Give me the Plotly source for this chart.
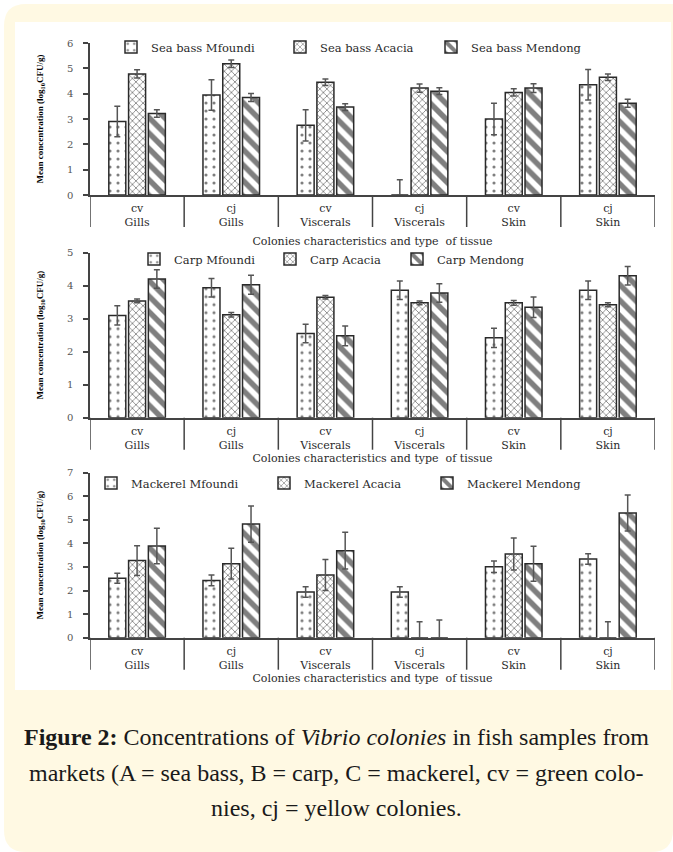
import plotly.graph_objects as go

W, H = 673, 852

# ---------------- data ----------------
colonies = ["cv", "cj", "cv", "cj", "cv", "cj"]
tissues = ["Gills", "Gills", "Viscerals", "Viscerals", "Skin", "Skin"]
markets = ["Mfoundi", "Acacia", "Mendong"]

seabass_mfoundi = [2.90, 3.95, 2.75, 0.00, 3.00, 4.35]
seabass_mfoundi_err = [0.60, 0.60, 0.62, 0.60, 0.62, 0.60]
seabass_acacia = [4.78, 5.18, 4.45, 4.22, 4.05, 4.65]
seabass_acacia_err = [0.16, 0.15, 0.13, 0.16, 0.14, 0.13]
seabass_mendong = [3.22, 3.85, 3.47, 4.10, 4.22, 3.62]
seabass_mendong_err = [0.15, 0.16, 0.13, 0.13, 0.17, 0.16]

carp_mfoundi = [3.10, 3.94, 2.55, 3.86, 2.42, 3.86]
carp_mfoundi_err = [0.29, 0.28, 0.28, 0.28, 0.29, 0.28]
carp_acacia = [3.54, 3.12, 3.65, 3.48, 3.48, 3.42]
carp_acacia_err = [0.06, 0.07, 0.05, 0.06, 0.07, 0.06]
carp_mendong = [4.20, 4.03, 2.48, 3.78, 3.35, 4.30]
carp_mendong_err = [0.28, 0.29, 0.30, 0.28, 0.31, 0.28]

mackerel_mfoundi = [2.52, 2.43, 1.94, 1.94, 3.01, 3.34]
mackerel_mfoundi_err = [0.21, 0.23, 0.22, 0.22, 0.24, 0.22]
mackerel_acacia = [3.27, 3.14, 2.66, 0.00, 3.55, 0.00]
mackerel_acacia_err = [0.63, 0.65, 0.66, 0.68, 0.68, 0.68]
mackerel_mendong = [3.89, 4.82, 3.69, 0.00, 3.14, 5.29]
mackerel_mendong_err = [0.75, 0.77, 0.78, 0.75, 0.74, 0.76]

y_title = "Mean concentration (log<sub>10</sub>CFU/g)"
x_title = "Colonies characteristics and type  of tissue"
caption_lines = [
    "<b>Figure 2:</b> Concentrations of <i>Vibrio colonies</i> in fish samples from",
    "markets (A = sea bass, B = carp, C = mackerel, cv = green colo-",
    "nies, cj = yellow colonies.",
]

# ---------------- helpers ----------------
def px(x):
    return x / W

def py(y):
    return 1 - y / H

cats = [f"{c} {t}" for c, t in zip(colonies, tissues)]
ticktext = [f"{c}<br>{t}" for c, t in zip(colonies, tissues)]

FONT = "DejaVu Serif"
INK = "#2a2a2a"
patterns = {"Mfoundi": dict(shape=".", size=8, solidity=0.12),
            "Acacia": dict(shape="x", size=5, solidity=0.3),
            "Mendong": dict(shape="\\", size=11, solidity=0.5)}

panels = [
    dict(name="Sea bass", vals=[seabass_mfoundi, seabass_acacia, seabass_mendong],
         errs=[seabass_mfoundi_err, seabass_acacia_err, seabass_mendong_err],
         top=43, bottom=195, ymax=6, leg_y=47, leg_x=111, lw=[124, 106, 130], tstand=9),
    dict(name="Carp", vals=[carp_mfoundi, carp_acacia, carp_mendong],
         errs=[carp_mfoundi_err, carp_acacia_err, carp_mendong_err],
         top=252.7, bottom=417.7, ymax=5, leg_y=259, leg_x=134, lw=[91, 82, 100], tstand=2),
    dict(name="Mackerel", vals=[mackerel_mfoundi, mackerel_acacia, mackerel_mendong],
         errs=[mackerel_mfoundi_err, mackerel_acacia_err, mackerel_mendong_err],
         top=472.7, bottom=637.7, ymax=7, leg_y=483, leg_x=91, lw=[128, 118, 130], tstand=0),
]

PLOT_L, PLOT_R = 90, 655

fig = go.Figure()
layout = dict(
    width=W, height=H,
    margin=dict(l=0, r=0, t=0, b=0),
    paper_bgcolor="white", plot_bgcolor="rgba(0,0,0,0)",
    barmode="group", bargap=0.37, bargroupgap=0.14,
    showlegend=True,
    font=dict(family=FONT, color=INK, size=11),
)
shapes = []

# background card
r = 22
x0, x1, y0, y1 = 4, 673, 4, 852
path = (f"M{px(x0 + r)},{py(y0)} L{px(x1)},{py(y0)} L{px(x1)},{py(y1 - r)} "
        f"Q{px(x1)},{py(y1)} {px(x1 - r)},{py(y1)} L{px(x0 + r)},{py(y1)} "
        f"Q{px(x0)},{py(y1)} {px(x0)},{py(y1 - r)} L{px(x0)},{py(y0 + r)} "
        f"Q{px(x0)},{py(y0)} {px(x0 + r)},{py(y0)} Z")
shapes.append(dict(type="path", xref="paper", yref="paper", path=path,
                   fillcolor="#FFF9E3", line=dict(width=0), layer="below"))
shapes.append(dict(type="rect", xref="paper", yref="paper",
                   x0=px(15), x1=px(671), y0=py(690), y1=py(22),
                   fillcolor="white", line=dict(width=0), layer="below"))

for i, p in enumerate(panels):
    k = "" if i == 0 else str(i + 1)
    xa, ya = "x" + k, "y" + k
    leg = "legend" + k
    for j, m in enumerate(markets):
        vals = p["vals"][j]
        errs = p["errs"][j]
        fig.add_trace(go.Bar(
            x=cats, y=vals, name=f"{p['name']} {m}",
            xaxis=xa, yaxis=ya, legend=leg, legendwidth=p["lw"][j],
            marker=dict(color="white", line=dict(color=INK, width=1.5),
                        pattern=dict(fgcolor="#000", bgcolor="white", **patterns[m])),
            error_y=dict(type="data", array=errs,
                         arrayminus=[min(e, v) for e, v in zip(errs, vals)],
                         color="#555", thickness=1.5, width=3),
        ))
    dom_y = [py(p["bottom"]), py(p["top"])]
    layout["xaxis" + k] = dict(
        domain=[px(PLOT_L), px(PLOT_R)], anchor=ya, type="category",
        range=[-0.5, len(cats) - 0.5], showline=True, linecolor="#444", linewidth=1.5,
        ticks="", tickvals=cats, ticktext=ticktext, ticklabelstandoff=2,
        tickfont=dict(family=FONT, size=11, color=INK), showgrid=False, zeroline=False,
        automargin=False,
        title=dict(text=x_title, font=dict(family=FONT, size=11, color=INK),
                   standoff=p["tstand"]),
    )
    layout["yaxis" + k] = dict(
        domain=dom_y, anchor=xa, range=[0, p["ymax"]], dtick=1,
        showline=True, linecolor="#444", linewidth=1.5, ticks="outside", ticklen=5,
        tickcolor="#444", tickwidth=1.5, showgrid=False, zeroline=False, automargin=False,
        tickfont=dict(family=FONT, size=10, color="#555"), ticklabelstandoff=8,
        title=dict(text="<b>" + y_title + "</b>",
                   font=dict(family="Liberation Sans Narrow, Liberation Serif", size=9,
                             color="#000"),
                   standoff=22),
    )
    layout[leg] = dict(
        orientation="h", x=px(p["leg_x"]), xanchor="left", y=py(p["leg_y"]), yanchor="middle",
        bgcolor="rgba(0,0,0,0)", font=dict(family=FONT, size=11.5, color=INK),
        itemclick=False, itemdoubleclick=False, entrywidthmode="pixels",
    )
    for b in range(len(cats) + 1):
        shapes.append(dict(type="line", xref=xa, yref="paper",
                           x0=b - 0.5, x1=b - 0.5, y0=py(p["bottom"]), y1=py(p["bottom"] + 32),
                           line=dict(color="#444", width=1.5)))

layout["shapes"] = shapes
annotations = []
for line, yy in zip(caption_lines, [737, 773, 808]):
    annotations.append(dict(text=line, xref="paper", yref="paper", x=0.5, y=py(yy),
                            xanchor="center", yanchor="middle", showarrow=False,
                            font=dict(family="Liberation Serif", size=24, color="#1a1a1a")))
layout["annotations"] = annotations
fig.update_layout(**layout)
fig.write_html("out.html", config={"displayModeBar": False},
               post_script="document.body.style.margin='0';")
